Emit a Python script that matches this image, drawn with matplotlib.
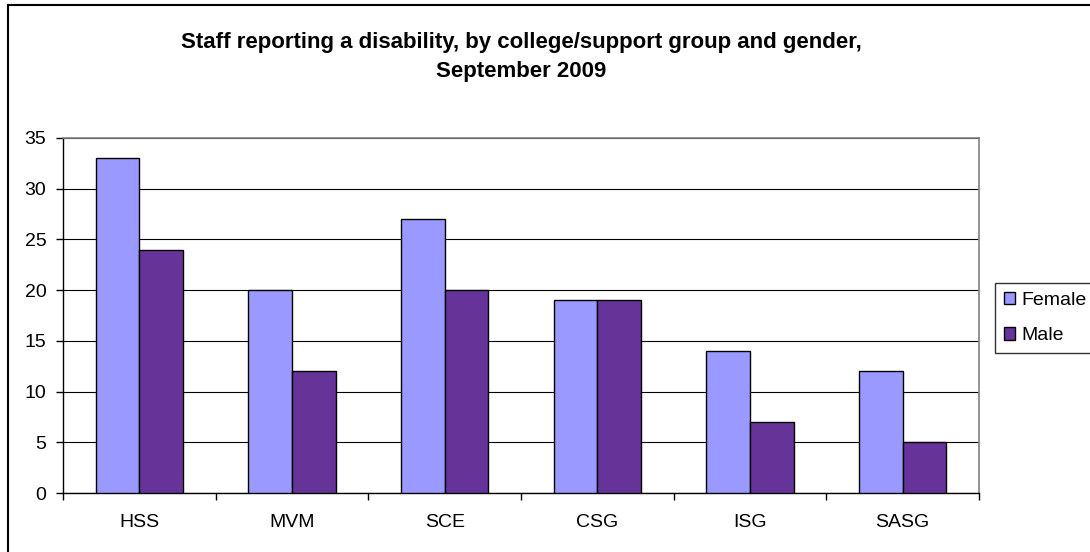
import numpy as np
import matplotlib.pyplot as plt
from matplotlib.lines import Line2D
from matplotlib.patches import Patch

plt.rcParams['font.family'] = ['Liberation Sans', 'DejaVu Sans']

groups = ["HSS", "MVM", "SCE", "CSG", "ISG", "SASG"]
female = [33, 20, 27, 19, 14, 12]
male = [24, 12, 20, 19, 7, 5]

W, H = 1090, 552
fig = plt.figure(figsize=(W / 100, H / 100), dpi=100)

# plot area in pixels: x 63..979, y 138..493
ax = fig.add_axes([63 / W, 1 - 493 / H, (979 - 63) / W, (493 - 138) / H])

x = np.arange(len(groups))
bw = 1 / 3.5
ax.bar(x - bw / 2, female, bw, color="#9999FF", edgecolor="black", linewidth=1, zorder=3, label="Female")
ax.bar(x + bw / 2, male, bw, color="#663399", edgecolor="black", linewidth=1, zorder=3, label="Male")

ax.set_xlim(-0.5, len(groups) - 0.5)
ax.set_ylim(0, 35)
ax.set_yticks(np.arange(0, 36, 5))
ax.set_xticks(x)
ax.set_xticklabels(groups)
ax.set_xticks(np.arange(-0.5, len(groups), 1), minor=True)
ax.tick_params(axis="x", which="major", length=0, pad=15, labelsize=14)
ax.tick_params(axis="x", which="minor", length=5, width=1, color="black", direction="out")
ax.tick_params(axis="y", length=5, width=1, color="black", direction="out", pad=7, labelsize=14)
ax.grid(axis="y", color="black", linewidth=0.8, zorder=0)

for s in ["left", "bottom"]:
    ax.spines[s].set_color("black")
    ax.spines[s].set_linewidth(1)
for s in ["top", "right"]:
    ax.spines[s].set_color("#808080")
    ax.spines[s].set_linewidth(1.2)

fig.text(521 / W, 1 - 57 / H,
         "Staff reporting a disability, by college/support group and gender,\nSeptember 2009",
         ha="center", va="center", fontsize=16, fontweight="bold", linespacing=1.5)

handles = [Patch(facecolor="#9999FF", edgecolor="black", label="Female"),
           Patch(facecolor="#663399", edgecolor="black", label="Male")]
leg = fig.legend(handles=handles, loc="upper left", bbox_to_anchor=(995 / W, 1 - 283 / H),
                 fontsize=14, frameon=True, fancybox=False, handlelength=0.6, handleheight=0.6,
                 handletextpad=0.3, borderpad=0.45, labelspacing=0.95, borderaxespad=0)
leg.get_frame().set_edgecolor("black")
leg.get_frame().set_linewidth(1)

# outer chart border
fig.add_artist(Line2D([8 / W, 8 / W], [0, 1 - 5 / H], color="black", linewidth=1.5, transform=fig.transFigure))
fig.add_artist(Line2D([8 / W, 1], [1 - 5 / H, 1 - 5 / H], color="black", linewidth=1.5, transform=fig.transFigure))

fig.savefig("out.png", dpi=100)
